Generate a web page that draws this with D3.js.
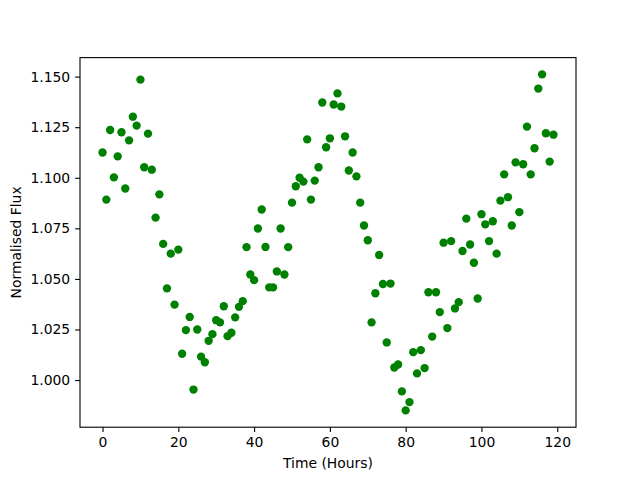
<!DOCTYPE html>
<html>
<head>
<meta charset="utf-8">
<script src="https://cdn.jsdelivr.net/npm/d3@7"></script>
<style>
  body { margin: 0; background: #fff; }
  text { font-family: "DejaVu Sans", sans-serif; fill: #000; }
</style>
</head>
<body>
<div id="chart"></div>
<script>
var width = 640,
	height = 480;
var margin = {left: 80, right: 64, top: 57.6, bottom: 52.8};

// time in hours, one sample per hour
var hours = d3.range(0, 120);

// normalised flux
var flux = [
	1.1125, 1.0892, 1.1236, 1.1002, 1.1106, 1.1225, 1.0947, 1.1185, 1.1302, 1.1258,
	1.1485, 1.1052, 1.1218, 1.1040, 1.0803, 1.0918, 1.0673, 1.0453, 1.0625, 1.0373,
	1.0645, 1.0130, 1.0247, 1.0312, 0.9953, 1.0250, 1.0116, 1.0088, 1.0194, 1.0227,
	1.0296, 1.0285, 1.0365, 1.0217, 1.0234, 1.0310, 1.0362, 1.0390, 1.0657, 1.0522,
	1.0494, 1.0749, 1.0843, 1.0658, 1.0458, 1.0458, 1.0537, 1.0749, 1.0522, 1.0657,
	1.0877, 1.0958, 1.1000, 1.0981, 1.1190, 1.0892, 1.0986, 1.1052, 1.1372, 1.1151,
	1.1195, 1.1362, 1.1417, 1.1352, 1.1205, 1.1036, 1.1125, 1.1007, 1.0877, 1.0764,
	1.0691, 1.0285, 1.0429, 1.0618, 1.0475, 1.0186, 1.0477, 1.0062, 1.0077, 0.9944,
	0.9850, 0.9891, 1.0138, 1.0033, 1.0148, 1.0059, 1.0434, 1.0215, 1.0434, 1.0336,
	1.0679, 1.0257, 1.0687, 1.0354, 1.0385, 1.0638, 1.0798, 1.0670, 1.0580, 1.0403,
	1.0820, 1.0770, 1.0687, 1.0785, 1.0625, 1.0887, 1.1017, 1.0904, 1.0764, 1.1076,
	1.0830, 1.1067, 1.1253, 1.1017, 1.1146, 1.1441, 1.1511, 1.1220, 1.1080, 1.1213
];

var xTicks = [0, 20, 40, 60, 80, 100, 120];
var yTicks = [1.000, 1.025, 1.050, 1.075, 1.100, 1.125, 1.150];

var points = hours.map(function(h, i) { return {t: h, f: flux[i]}; });

var svg = d3.select("#chart")
	.append("svg")
	.attr("width", width)
	.attr("height", height);

// matplotlib style 5% padding on both axes
function padded(ext) {
	var pad = (ext[1] - ext[0]) * 0.05;
	return [ext[0] - pad, ext[1] + pad];
}

var x = d3.scaleLinear()
	.domain(padded(d3.extent(hours)))
	.range([margin.left, width - margin.right]);

var y = d3.scaleLinear()
	.domain(padded(d3.extent(flux)))
	.range([height - margin.bottom, margin.top]);

// points
svg.selectAll(".dot")
	.data(points)
	.enter()
	.append("circle")
	.attr("class", "dot")
	.attr("cx", function(d) { return x(d.t); })
	.attr("cy", function(d) { return y(d.f); })
	.attr("r", 4.17)
	.attr("fill", "#008000");

// axes
var xAxis = svg.append("g")
	.attr("transform", "translate(0," + (height - margin.bottom) + ")")
	.call(d3.axisBottom(x).tickValues(xTicks).tickSize(4.9).tickPadding(4.9).tickFormat(d3.format("d")));

var yAxis = svg.append("g")
	.attr("transform", "translate(" + margin.left + ",0)")
	.call(d3.axisLeft(y).tickValues(yTicks).tickSize(4.9).tickPadding(4.9).tickFormat(d3.format(".3f")));

[xAxis, yAxis].forEach(function(a) {
	a.select(".domain").remove();
	a.selectAll("line").attr("stroke", "#000").attr("stroke-width", 1.1);
	a.selectAll("text").attr("font-size", "13.9px").attr("font-family", "DejaVu Sans").attr("fill", "#000");
});

// frame
svg.append("rect")
	.attr("x", margin.left)
	.attr("y", margin.top)
	.attr("width", width - margin.left - margin.right)
	.attr("height", height - margin.top - margin.bottom)
	.attr("fill", "none")
	.attr("stroke", "#000")
	.attr("stroke-width", 1.1);

// labels
svg.append("text")
	.attr("x", (margin.left + width - margin.right) / 2)
	.attr("y", 468)
	.attr("text-anchor", "middle")
	.attr("font-size", "13.9px")
	.text("Time (Hours)");

svg.append("text")
	.attr("transform", "translate(21," + ((margin.top + height - margin.bottom) / 2) + ") rotate(-90)")
	.attr("text-anchor", "middle")
	.attr("font-size", "13.9px")
	.text("Normalised Flux");
</script>
</body>
</html>
